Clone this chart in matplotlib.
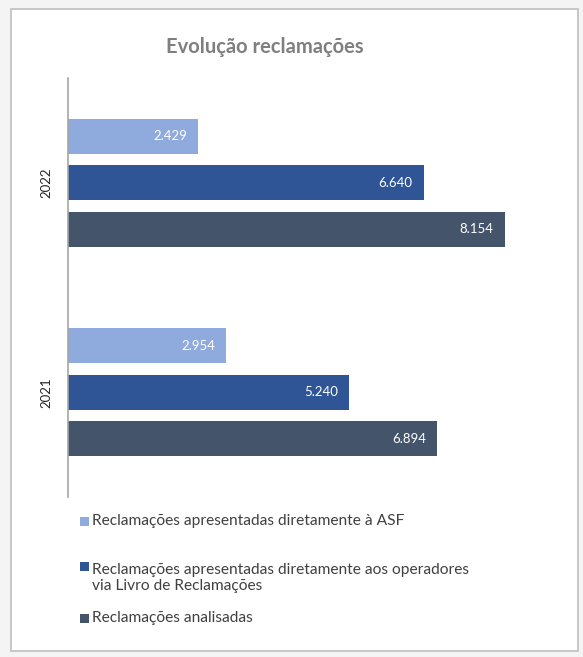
import matplotlib.pyplot as plt
from matplotlib.patches import Rectangle

anos = ['2021', '2022']
series = ['Reclamações apresentadas diretamente à ASF',
          'Reclamações apresentadas diretamente aos operadores\nvia Livro de Reclamações',
          'Reclamações analisadas']
valores_asf = [2954, 2429]
valores_operadores = [5240, 6640]
valores_analisadas = [6894, 8154]
cores = ['#8FAADC', '#2F5597', '#44546A']

plt.rcParams['font.family'] = ['Lato', 'DejaVu Sans']

fig = plt.figure(figsize=(5.83, 6.57), dpi=100)
fig.patch.set_facecolor('#F4F4F4')
fundo = Rectangle((11 / 583, 1 - 651 / 657), 567 / 583, 642 / 657,
                  transform=fig.transFigure, facecolor='white',
                  edgecolor='#BFBFBF', linewidth=1.2, zorder=-5)
fig.patches.append(fundo)

ax = fig.add_axes([68 / 583, 1 - 497 / 657, 500 / 583, 419 / 657])
ax.set_zorder(2)
ax.set_facecolor('white')

dados = [valores_asf, valores_operadores, valores_analisadas]
desloc = [0.222, 0.0, -0.222]
for vals, cor, d, nome in zip(dados, cores, desloc, series):
    pos = [i + d for i in range(len(anos))]
    barras = ax.barh(pos, vals, height=0.167, color=cor, label=nome, zorder=2)
    rotulos = [f'{v:,}'.replace(',', '.') for v in vals]
    ax.bar_label(barras, labels=rotulos, padding=-8, color='white', fontsize=9.5)

for t in ax.texts:
    t.set_horizontalalignment('right')

ax.set_ylim(-0.5, 1.5)
ax.set_xlim(0, 9330)
ax.set_yticks(range(len(anos)))
ax.set_yticklabels(anos, rotation=90, va='center', fontsize=9.5, color='#262626')
ax.tick_params(axis='y', length=0, pad=11)
ax.set_xticks([])
for lado in ['top', 'right', 'bottom']:
    ax.spines[lado].set_visible(False)
ax.spines['left'].set_color('#A6A6A6')
ax.spines['left'].set_linewidth(1.2)

fig.text(265 / 583, 1 - 47 / 657, 'Evolução reclamações', ha='center', va='center',
         fontsize=14.5, fontweight='bold', color='#7F7F7F')

# legenda manual (espaçamento irregular como no original)
legenda_y = [521, 578, 618]
for nome, cor, y in zip(series, cores, legenda_y):
    yy = 1 - y / 657
    n_linhas = nome.count('\n') + 1
    topo = yy + (n_linhas - 1) * 11.5 / 657
    fig.patches.append(Rectangle((80 / 583, topo - 4.5 / 657), 9 / 583, 9 / 657,
                                 transform=fig.transFigure, facecolor=cor,
                                 edgecolor='none', zorder=3))
    fig.text(92 / 583, yy, nome, ha='left', va='center', fontsize=11.2,
             color='#404040', linespacing=1.2)

fig.savefig('out.png', dpi=100, facecolor=fig.get_facecolor())
